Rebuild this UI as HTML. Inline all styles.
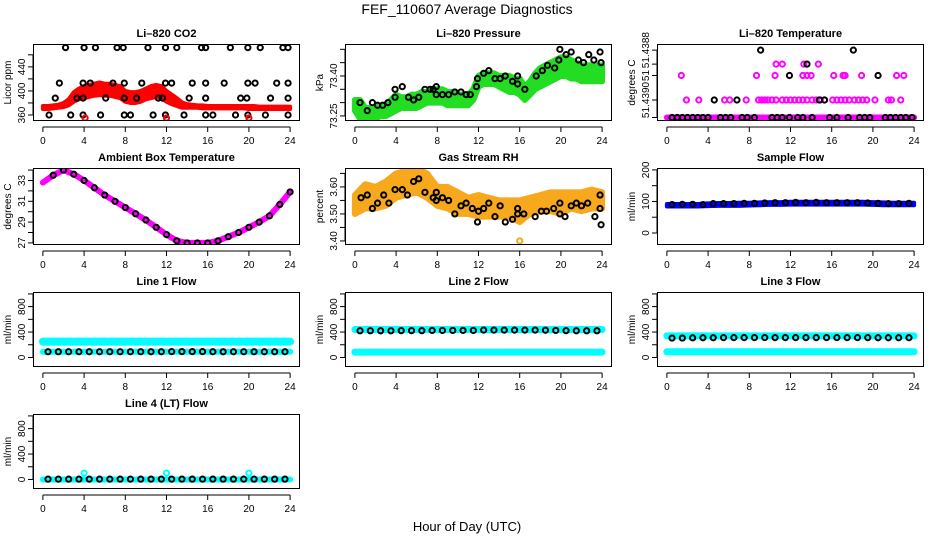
<!DOCTYPE html>
<html><head><meta charset="utf-8"><style>
html,body{margin:0;padding:0;background:#fff;}
svg{display:block;font-family:"Liberation Sans",Arial,sans-serif;}
</style></head><body>
<svg id="c" width="936" height="540" viewBox="0 0 936 540" xmlns="http://www.w3.org/2000/svg">
<text x="467" y="14" font-size="14" text-anchor="middle">FEF_110607  Average Diagnostics</text>
<text x="467" y="531" font-size="13" text-anchor="middle">Hour of Day (UTC)</text>
</svg>
<script>
// ---------- data ----------
const xTicks=[0,4,8,12,16,20,24];
const halfHours=[0,0.5,1,1.5,2,2.5,3,3.5,4,4.5,5,5.5,6,6.5,7,7.5,8,8.5,9,9.5,10,10.5,11,11.5,12,12.5,13,13.5,14,14.5,15,15.5,16,16.5,17,17.5,18,18.5,19,19.5,20,20.5,21,21.5,22,22.5,23,23.5,24];
const hours=[0,1,2,3,4,5,6,7,8,9,10,11,12,13,14,15,16,17,18,19,20,21,22,23,24];
const hoursMid=[0.5,1.5,2.5,3.5,4.5,5.5,6.5,7.5,8.5,9.5,10.5,11.5,12.5,13.5,14.5,15.5,16.5,17.5,18.5,19.5,20.5,21.5,22.5,23.5];

// CO2
const co2Lo=[370,370,371,372,373,376,382,386,388,390,392,393,392,392,390,388,382,380,380,382,386,388,390,388,382,378,375,372,372,372,372,371,371,371,371,371,371,371,371,371,370,370,370,370,370,370,370,370,370];
const co2Hi=[375,375,376,377,380,386,398,404,408,410,412,414,412,412,410,408,400,398,398,400,404,408,410,408,400,394,388,381,378,377,376,376,375,375,375,375,375,375,375,375,375,375,374,374,374,374,374,374,374];
const co2TopX=[2.2,4,5.1,7.2,7.8,10.2,11.9,13,15.4,15.8,18.2,19.9,21.1,23.3,23.8];
const co2TopY=[472,472,472,472,472,472,472,472,472,472,472,472,472,472,472];
const co2HiX=[1.6,3.9,4.6,6.8,7.9,9.6,11.9,12.5,14.5,15.8,17.6,19.9,20.6,22.7,23.8];
const co2HiY=[413,413,413,413,413,413,413,413,413,413,413,413,413,413,413];
const co2MidX=[1.2,3.3,3.9,6.1,7.9,9.1,11.2,11.6,14.2,15.8,19.2,19.8,22.1,23.8];
const co2MidY=[388,388,388,388,388,388,388,388,388,388,388,388,388,388];
const co2LowX=[0.6,2.7,3.9,5.6,7.9,8.5,10.7,11.9,13.7,15.8,16.5,18.7,19.9,21.6,23.8];
const co2LowY=[360,360,360,360,360,360,360,360,360,360,360,360,360,360,360];
const co2OutX=[4.1,12,20];
const co2OutY=[355,355,355];

// Pressure
const presLo=[73.27,73.24,73.23,73.24,73.24,73.25,73.25,73.26,73.27,73.28,73.28,73.28,73.28,73.29,73.30,73.30,73.30,73.30,73.29,73.29,73.29,73.29,73.29,73.31,73.36,73.37,73.37,73.37,73.36,73.35,73.34,73.34,73.33,73.31,73.33,73.35,73.36,73.37,73.38,73.39,73.40,73.40,73.39,73.39,73.38,73.38,73.38,73.38,73.38];
const presHi=[73.31,73.31,73.28,73.28,73.28,73.29,73.29,73.31,73.33,73.32,73.32,73.33,73.33,73.34,73.34,73.35,73.35,73.35,73.34,73.34,73.33,73.33,73.33,73.35,73.40,73.41,73.41,73.41,73.40,73.40,73.40,73.39,73.39,73.36,73.38,73.41,73.43,73.44,73.45,73.46,73.47,73.47,73.46,73.45,73.44,73.44,73.44,73.44,73.44];
const presPtX=[0.5,1.2,1.7,2.2,2.7,3.2,3.9,3.9,4.6,5.2,5.7,6.2,6.8,7.3,7.6,7.9,7.9,8.5,9.1,9.7,10.3,10.8,11.2,11.8,11.9,12.5,13,13.6,14.1,14.6,15.3,15.8,15.8,16.5,17.6,18.2,18.7,19.4,19.8,19.9,20.5,21,21.7,22.2,22.7,23.2,23.8,23.9];
const presPtY=[73.30,73.27,73.30,73.29,73.29,73.30,73.32,73.35,73.36,73.32,73.31,73.32,73.35,73.35,73.35,73.36,73.33,73.33,73.33,73.34,73.34,73.33,73.33,73.36,73.39,73.41,73.42,73.39,73.39,73.40,73.38,73.40,73.37,73.35,73.40,73.42,73.44,73.43,73.46,73.50,73.48,73.49,73.46,73.45,73.48,73.46,73.49,73.45];

// Li-820 temperature (level index above 51.4390 base)
const tempL1X=[1.9,3.1,5.6,6.1,7.7,8.9,9.2,9.5,9.8,10.2,10.6,11.2,11.6,12,12.4,12.8,13.2,13.6,14.1,14.5,14.9,15.3,16.1,16.5,16.9,17.3,17.7,18.2,18.6,19,19.4,20.2,21.5,21.8,22.7];
const tempL1Y=[1,1,1,1,1,1,1,1,1,1,1,1,1,1,1,1,1,1,1,1,1,1,1,1,1,1,1,1,1,1,1,1,1,1,1];
const tempL2X=[1.4,8.7,10.5,13.2,13.6,14,16.2,17.1,17.3,18.9,22.3,23];
const tempL2Y=[2.4,2.4,2.4,2.4,2.4,2.4,2.4,2.4,2.4,2.4,2.4,2.4];
const tempL3X=[10.6,11.2,13.3,14.7];
const tempL3Y=[3.05,3.05,3.05,3.05];
const tempBlkX=[0.5,1,1.5,2,2.5,3,3.5,4,5.2,5.7,6.2,7.3,7.8,8.5,10.2,10.7,11.2,11.9,12.7,13.2,14.1,15.8,16.5,17.6,18.7,19.2,19.7,21.2,21.7,22.2,22.7,23.2,23.8,4.6,6.8,14.8,15.3,11.9,20.5,13.6,9.1,18.1];
const tempBlkY=[0,0,0,0,0,0,0,0,0,0,0,0,0,0,0,0,0,0,0,0,0,0,0,0,0,0,0,0,0,0,0,0,0,1,1,1,1,2.4,2.4,3.05,3.85,3.85];

// Ambient box temperature
const ambY=[32.8,33.5,34.0,33.6,33.0,32.3,31.6,31.0,30.4,29.8,29.2,28.5,27.8,27.2,27.0,27.0,27.0,27.2,27.6,28.0,28.5,29.0,29.6,30.7,31.9];

// Gas stream RH
const rhLo=[3.50,3.52,3.52,3.53,3.56,3.57,3.58,3.56,3.53,3.52,3.50,3.50,3.49,3.49,3.49,3.49,3.47,3.50,3.51,3.51,3.50,3.52,3.51,3.52,3.52];
const rhHi=[3.57,3.61,3.60,3.62,3.65,3.66,3.67,3.65,3.60,3.60,3.58,3.56,3.57,3.56,3.55,3.55,3.55,3.56,3.57,3.58,3.58,3.58,3.58,3.59,3.58];
const rhPtX=[0.6,1.2,1.7,2.2,2.8,3.3,3.9,4.6,5.1,5.7,6.2,6.8,7.6,7.9,7.9,8.5,9.1,9.7,10.3,10.8,11.4,11.9,12,12.5,13,13.6,14.1,14.6,15.3,15.8,15.8,16.4,17.5,18.1,18.6,19.3,19.9,19.9,20.4,21,21.5,22,22.6,23.3,23.8,23.8,23.9];
const rhPtY=[3.56,3.57,3.52,3.54,3.57,3.54,3.59,3.59,3.57,3.62,3.63,3.58,3.56,3.55,3.58,3.56,3.55,3.50,3.53,3.54,3.52,3.47,3.51,3.52,3.54,3.49,3.53,3.47,3.48,3.50,3.52,3.50,3.49,3.51,3.51,3.52,3.50,3.54,3.49,3.53,3.54,3.53,3.54,3.49,3.52,3.57,3.46];
const rhOutX=[16];
const rhOutY=[3.40];

// Sample flow
const sfLo=[84,84,84,84,85,86,86,86,87,88,89,89,90,90,90,90,90,90,90,90,89,88,88,88,88];
const sfHi=[92,92,92,92,94,95,95,96,96,97,98,98,99,99,99,99,99,99,99,99,98,97,96,96,96];
const sfBlk=[90,91,91,90,93,93,93,94,94,95,96,96,97,96,97,96,96,96,96,95,94,93,93,94];

// Line flows
const l1Cyan=[250,250,250,250,250,250,250,250,250,250,250,250,250,250,250,250,250,250,250,250,250,250,250,250,250];
const l1CyanLow=[90,90,90,90,90,90,90,90,90,90,90,90,90,90,90,90,90,90,90,90,90,90,90,90,90];
const l1Blk=[90,90,90,90,90,90,90,90,90,90,90,90,92,92,92,92,90,90,90,90,90,90,90,90];
const l2Cyan=[440,440,440,440,440,440,440,440,440,440,440,440,440,440,440,440,440,440,440,440,440,440,440,440,440];
const l2CyanLow=[85,85,85,85,85,85,85,85,85,85,85,85,85,85,85,85,85,85,85,85,85,85,85,85,85];
const l2Blk=[420,420,420,420,422,422,422,425,425,425,425,425,430,430,430,430,430,430,428,425,422,420,420,420];
const l3Cyan=[340,340,340,340,340,340,340,340,340,340,340,340,340,340,340,340,340,340,340,340,340,340,340,340,340];
const l3CyanLow=[90,90,90,90,90,90,90,90,90,90,90,90,90,90,90,90,90,90,90,90,90,90,90,90,90];
const l3Blk=[305,305,308,310,310,312,312,312,312,312,312,312,312,312,312,312,312,312,312,312,310,310,310,310];
const l4Cyan=[0,0,0,0,0,0,0,0,0,0,0,0,0,0,0,0,0,0,0,0,0,0,0,0,0];
const l4Blk=[5,5,5,5,5,5,5,5,5,5,5,5,5,5,5,5,5,5,5,5,5,5,5,5];
const l4OutX=[4,12,20];
const l4OutY=[100,100,100];

// ---------- drawing ----------
const svg=document.getElementById('c');
const NS='http://www.w3.org/2000/svg';
function mk(tag,attrs,parent){const e=document.createElementNS(NS,tag);for(const k in attrs)e.setAttribute(k,attrs[k]);(parent||svg).appendChild(e);return e;}
const colL=[33,345,657], rowT=[44,168,292,414], rowH=[77,77,75,75], W=267;
function panel(name,col,row,yMin,yMax,yTicks,yLabels,title,ylab){
  const L=colL[col],T=rowT[row],H=rowH[row];
  const g=mk('g',{});
  
  
  const p={g,L,T,H,
    x:v=>L+(v+0.96)/25.92*W,
    y:v=>T+H-(v-yMin)/(yMax-yMin)*H};
  const t=mk('text',{x:L+W/2,y:T-7,'font-size':11,'font-weight':'bold','text-anchor':'middle'},g);
  t.textContent=title;
  
  
  const yl=mk('text',{transform:`translate(${L-22},${T+H/2}) rotate(-90)`,'font-size':10,'text-anchor':'middle'},g);
  yl.textContent=ylab;
  
  
  const xa=mk('g',{},g);
  
  
  mk('line',{x1:p.x(0),x2:p.x(24),y1:T+H+6,y2:T+H+6,stroke:'#000'},xa);
  xTicks.forEach(v=>{
    mk('line',{x1:p.x(v),x2:p.x(v),y1:T+H+6,y2:T+H+11,stroke:'#000'},xa);
    const tx=mk('text',{x:p.x(v),y:T+H+23,'font-size':10,'text-anchor':'middle'},xa);
    tx.textContent=v;
  });
  const ya=mk('g',{},g);
  
  
  const yy=yTicks.map(p.y);
  mk('line',{x1:L,x2:L,y1:Math.min(...yy),y2:Math.max(...yy),stroke:'#000'},ya);
  yTicks.forEach((v,i)=>{
    mk('line',{x1:L-5,x2:L,y1:p.y(v),y2:p.y(v),stroke:'#000'},ya);
    if(yLabels[i]){
      const tx=mk('text',{transform:`translate(${L-8},${p.y(v)}) rotate(-90)`,'font-size':10,'text-anchor':'middle'},ya);
      tx.textContent=yLabels[i];
    }
  });
  const clip='clip-'+name;
  const cp=mk('clipPath',{id:clip},g);
  mk('rect',{x:L,y:T,width:W,height:H},cp);
  p.plot=mk('g',{'clip-path':`url(#${clip})`},g);
  setTimeout(()=>{const b=mk('rect',{x:L+0.5,y:T+0.5,width:W-1,height:H-1,fill:'none',stroke:'#000'},g);
    
    },0);
  return p;
}
function band(p,xs,lo,hi,color,name,sw){
  let d='M'+xs.map((x,i)=>p.x(x)+','+p.y(hi[i])).join('L');
  d+='L'+xs.map((x,i)=>p.x(x)+','+p.y(lo[i])).reverse().join('L')+'Z';
  const e=mk('path',{d,fill:color,stroke:color,'stroke-width':sw||6,'stroke-linejoin':'round'},p.plot);
  
  
}
function line(p,xs,ys,color,w,name){
  const e=mk('polyline',{points:xs.map((x,i)=>p.x(x)+','+p.y(ys[i])).join(' '),fill:'none',stroke:color,'stroke-width':w,'stroke-linecap':'round','stroke-linejoin':'round'},p.plot);
  
  
}
function pts(p,xs,ys,color,name,r){
  const g=mk('g',{},p.plot);
  
  
  xs.forEach((x,i)=>{mk('circle',{cx:p.x(x),cy:p.y(ys[i]),r:r||2.6,fill:'none',stroke:color,'stroke-width':2},g);});
}

// CO2
let p=panel('co2',0,0,350,478,[360,380,400,420,440,460],['360','','400','','440',''],'Li–820 CO2','Licor ppm');
band(p,halfHours,co2Lo,co2Hi,'#ff0000','co2-band',4);
pts(p,co2TopX,co2TopY,'#000','co2-points-top');pts(p,co2HiX,co2HiY,'#000','co2-points-high');
pts(p,co2MidX,co2MidY,'#000','co2-points-mid');pts(p,co2LowX,co2LowY,'#000','co2-points-low');
pts(p,co2OutX,co2OutY,'#ff0000','co2-outliers');

// Pressure
p=panel('pressure',1,0,73.231,73.52,[73.25,73.30,73.35,73.40,73.45,73.50],['73.25','','','73.40','',''],'Li–820 Pressure','kPa');
band(p,halfHours,presLo,presHi,'#22dd22','pressure-band');
pts(p,presPtX,presPtY,'#000','pressure-points');

// Li-820 Temp
p=panel('li820-temp',2,0,-0.2,4.2,[0,1,2.4,3.05,3.85],['','51.4390','51','','51.4388'],'Li–820 Temperature','degrees C');
line(p,[0,24],[0,0],'#ff00ff',6,'li820-temp-base-line');
pts(p,tempL1X,tempL1Y,'#ff00ff','li820-temp-level1');pts(p,tempL2X,tempL2Y,'#ff00ff','li820-temp-level2');
pts(p,tempL3X,tempL3Y,'#ff00ff','li820-temp-level3');pts(p,tempBlkX,tempBlkY,'#000','li820-temp-black-points');

// Ambient
p=panel('ambient-temp',0,1,26.8,34.2,[27,28,29,30,31,32,33,34],['27','','29','','31','','33',''],'Ambient Box Temperature','degrees C');
line(p,hours,ambY,'#ff00ff',6,'ambient-temp-line');
pts(p,hours.slice(1),ambY.slice(1),'#000','ambient-temp-points');

// RH
p=panel('gas-rh',1,1,3.385,3.67,[3.40,3.45,3.50,3.55,3.60,3.65],['3.40','','3.50','','3.60',''],'Gas Stream RH','percent');
band(p,hours,rhLo,rhHi,'#f7a81c','gas-rh-band');
pts(p,rhPtX,rhPtY,'#000','gas-rh-points');pts(p,rhOutX,rhOutY,'#f7a81c','gas-rh-outlier');

// Sample flow
p=panel('sample-flow',2,1,-38,206,[0,50,100,150,200],['0','','100','','200'],'Sample Flow','ml/min');
band(p,hours,sfLo,sfHi,'#0000ff','sample-flow-band',4);
pts(p,hoursMid,sfBlk,'#000','sample-flow-points');

const fT=[0,200,400,600,800,1000], fL=['0','','400','','800',''];
p=panel('line1-flow',0,2,-150,1030,fT,fL,'Line 1 Flow','ml/min');
line(p,hours,l1Cyan,'#00ffff',8,'line1-flow-cyan-high');line(p,hours,l1CyanLow,'#00ffff',6,'line1-flow-cyan-low');
pts(p,hoursMid,l1Blk,'#000','line1-flow-points');
p=panel('line2-flow',1,2,-150,1030,fT,fL,'Line 2 Flow','ml/min');
line(p,hours,l2Cyan,'#00ffff',7,'line2-flow-cyan-high');line(p,hours,l2CyanLow,'#00ffff',7,'line2-flow-cyan-low');
pts(p,hoursMid,l2Blk,'#000','line2-flow-points');
p=panel('line3-flow',2,2,-150,1030,fT,fL,'Line 3 Flow','ml/min');
line(p,hours,l3Cyan,'#00ffff',7,'line3-flow-cyan-high');line(p,hours,l3CyanLow,'#00ffff',7,'line3-flow-cyan-low');
pts(p,hoursMid,l3Blk,'#000','line3-flow-points');
p=panel('line4-flow',0,3,-150,1030,fT,fL,'Line 4 (LT) Flow','ml/min');
line(p,hours,l4Cyan,'#00ffff',6,'line4-flow-cyan');
pts(p,hoursMid,l4Blk,'#000','line4-flow-points');pts(p,l4OutX,l4OutY,'#00ffff','line4-flow-outliers');
</script>
</body></html>
